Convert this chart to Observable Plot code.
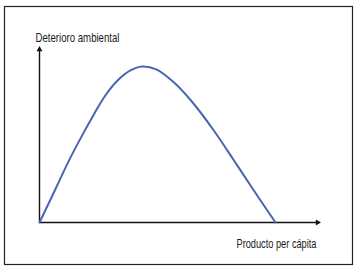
<!DOCTYPE html>
<html>
<head>
<meta charset="utf-8">
<script src="https://cdn.jsdelivr.net/npm/d3@7"></script>
<script src="https://cdn.jsdelivr.net/npm/@observablehq/plot@0.6"></script>
<style>
  html, body { margin: 0; padding: 0; background: #fff; }
</style>
</head>
<body>
<div id="chart"></div>
<script>
// Curve (x: producto per cápita, y: deterioro ambiental), arbitrary 0–100 units
const curveX = [0, 5.8, 10.5, 15.4, 19.5, 23.5, 27.9, 32.7, 36.9, 42.0, 48.3, 55.0, 62.7, 69.9, 77.1, 84.9];
const curveY = [0, 19.5, 35.5, 50.5, 62.3, 73.0, 81.8, 87.9, 90.2, 88.5, 81.0, 69.5, 53.2, 36.0, 18.5, 0];

// Axis extents
const axisMax = 100;

// Axis titles
const yTitle = "Deterioro ambiental";
const xTitle = "Producto per cápita";

const curve = curveX.map((x, i) => ({x, y: curveY[i]}));
const axes = [
  {x1: 0, y1: 0, x2: axisMax, y2: 0, rot: 90},
  {x1: 0, y1: 0, x2: 0, y2: axisMax, rot: 0}
];

const font = "'Liberation Sans Narrow', 'Liberation Sans', Arial, sans-serif";

const chart = Plot.plot({
  width: 360,
  height: 270,
  marginLeft: 39,
  marginRight: 43,
  marginTop: 49,
  marginBottom: 48,
  x: {domain: [0, axisMax], axis: null},
  y: {domain: [0, axisMax], axis: null},
  style: {fontFamily: font, background: "#fff"},
  marks: [
    Plot.frame({stroke: "#222", strokeWidth: 1.2, insetLeft: -35, insetRight: -35, insetTop: -43, insetBottom: -42}),
    Plot.link(axes, {x1: "x1", y1: "y1", x2: "x2", y2: "y2", stroke: "#111", strokeWidth: 1.4}),
    Plot.dot(axes, {x: "x2", y: "y2", symbol: "triangle", r: 2.2, fill: "#111", stroke: null, rotate: "rot"}),
    Plot.line(curve, {x: "x", y: "y", curve: "catmull-rom", stroke: "#4a64b4", strokeWidth: 2}),
    Plot.text([yTitle], {x: 0, y: axisMax, text: d => d, textAnchor: "start", dx: -4, dy: -12, fontSize: 13.5, fill: "#1a1a1a", className: "ytitle"}),
    Plot.text([xTitle], {x: axisMax, y: 0, text: d => d, textAnchor: "end", dx: -1, dy: 21, fontSize: 13.5, fill: "#1a1a1a", className: "xtitle"})
  ]
});
// condense the titles to mimic the narrow typeface of the original
d3.select(chart).selectAll(".ytitle text").attr("textLength", 84).attr("lengthAdjust", "spacingAndGlyphs");
d3.select(chart).selectAll(".xtitle text").attr("textLength", 80).attr("lengthAdjust", "spacingAndGlyphs");
document.getElementById("chart").appendChild(chart);
</script>
</body>
</html>
